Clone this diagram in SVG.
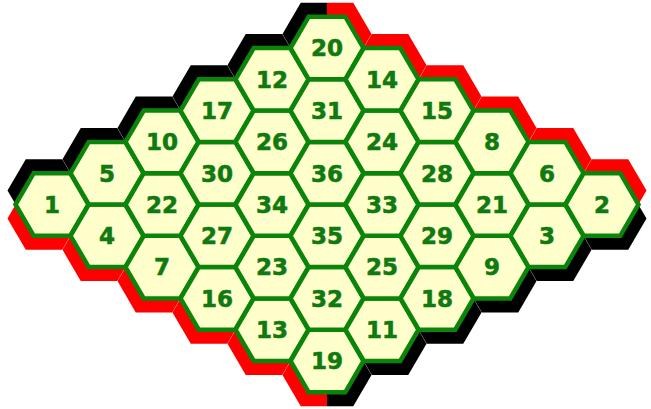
<svg xmlns="http://www.w3.org/2000/svg" xmlns:xlink="http://www.w3.org/1999/xlink" width="651" height="409" viewBox="0 0 651 409">
<style>
.cell{fill:#FFFFCC;stroke:#0a850a;stroke-width:4.5;stroke-linejoin:miter}
.blk{fill:#000000}
.red{fill:#FF0000}
.lbl{font-family:"DejaVu Sans",Verdana,sans-serif;font-weight:bold;font-size:23px;fill:#107a10;stroke:#107a10;stroke-width:0.6;text-anchor:middle}
</style>
<defs>
<path id="hex" d="M-36.5,0 L-18.25,-31.3 L18.25,-31.3 L36.5,0 L18.25,31.3 L-18.25,31.3 Z"/>
<clipPath id="cl" clipPathUnits="userSpaceOnUse"><rect x="0" y="0" width="327" height="409"/></clipPath>
<clipPath id="cr" clipPathUnits="userSpaceOnUse"><rect x="327" y="0" width="324" height="409"/></clipPath>
</defs>
<rect x="0" y="0" width="651" height="409" fill="#ffffff"/>
<g id="border">
<g class="blk">
<use href="#hex" x="44" y="190.5"/>
<use href="#hex" x="99" y="159.2"/>
<use href="#hex" x="154" y="127.9"/>
<use href="#hex" x="209" y="96.6"/>
<use href="#hex" x="264" y="65.3"/>
<g clip-path="url(#cl)"><use href="#hex" x="319" y="34"/></g>
<g clip-path="url(#cr)"><use href="#hex" x="335" y="375"/></g>
<use href="#hex" x="390" y="343.7"/>
<use href="#hex" x="445" y="312.4"/>
<use href="#hex" x="500" y="281.1"/>
<use href="#hex" x="555" y="249.8"/>
<use href="#hex" x="610" y="218.5"/>
</g>
<g class="red">
<g clip-path="url(#cr)"><use href="#hex" x="335" y="34"/></g>
<use href="#hex" x="390" y="65.3"/>
<use href="#hex" x="445" y="96.6"/>
<use href="#hex" x="500" y="127.9"/>
<use href="#hex" x="555" y="159.2"/>
<use href="#hex" x="610" y="190.5"/>
<use href="#hex" x="44" y="218.5"/>
<use href="#hex" x="99" y="249.8"/>
<use href="#hex" x="154" y="281.1"/>
<use href="#hex" x="209" y="312.4"/>
<use href="#hex" x="264" y="343.7"/>
<g clip-path="url(#cl)"><use href="#hex" x="319" y="375"/></g>
</g>
</g>
<g id="cells">
<g id="c1"><use href="#hex" class="cell" x="52" y="204.5"/><text class="lbl" x="52" y="212.8">1</text></g>
<g id="c4"><use href="#hex" class="cell" x="107" y="235.8"/><text class="lbl" x="107" y="244.1">4</text></g>
<g id="c7"><use href="#hex" class="cell" x="162" y="267.1"/><text class="lbl" x="162" y="275.4">7</text></g>
<g id="c16"><use href="#hex" class="cell" x="217" y="298.4"/><text class="lbl" x="217" y="306.7">16</text></g>
<g id="c13"><use href="#hex" class="cell" x="272" y="329.7"/><text class="lbl" x="272" y="338">13</text></g>
<g id="c19"><use href="#hex" class="cell" x="327" y="361"/><text class="lbl" x="327" y="369.3">19</text></g>
<g id="c5"><use href="#hex" class="cell" x="107" y="173.2"/><text class="lbl" x="107" y="181.5">5</text></g>
<g id="c22"><use href="#hex" class="cell" x="162" y="204.5"/><text class="lbl" x="162" y="212.8">22</text></g>
<g id="c27"><use href="#hex" class="cell" x="217" y="235.8"/><text class="lbl" x="217" y="244.1">27</text></g>
<g id="c23"><use href="#hex" class="cell" x="272" y="267.1"/><text class="lbl" x="272" y="275.4">23</text></g>
<g id="c32"><use href="#hex" class="cell" x="327" y="298.4"/><text class="lbl" x="327" y="306.7">32</text></g>
<g id="c11"><use href="#hex" class="cell" x="382" y="329.7"/><text class="lbl" x="382" y="338">11</text></g>
<g id="c10"><use href="#hex" class="cell" x="162" y="141.9"/><text class="lbl" x="162" y="150.2">10</text></g>
<g id="c30"><use href="#hex" class="cell" x="217" y="173.2"/><text class="lbl" x="217" y="181.5">30</text></g>
<g id="c34"><use href="#hex" class="cell" x="272" y="204.5"/><text class="lbl" x="272" y="212.8">34</text></g>
<g id="c35"><use href="#hex" class="cell" x="327" y="235.8"/><text class="lbl" x="327" y="244.1">35</text></g>
<g id="c25"><use href="#hex" class="cell" x="382" y="267.1"/><text class="lbl" x="382" y="275.4">25</text></g>
<g id="c18"><use href="#hex" class="cell" x="437" y="298.4"/><text class="lbl" x="437" y="306.7">18</text></g>
<g id="c17"><use href="#hex" class="cell" x="217" y="110.6"/><text class="lbl" x="217" y="118.9">17</text></g>
<g id="c26"><use href="#hex" class="cell" x="272" y="141.9"/><text class="lbl" x="272" y="150.2">26</text></g>
<g id="c36"><use href="#hex" class="cell" x="327" y="173.2"/><text class="lbl" x="327" y="181.5">36</text></g>
<g id="c33"><use href="#hex" class="cell" x="382" y="204.5"/><text class="lbl" x="382" y="212.8">33</text></g>
<g id="c29"><use href="#hex" class="cell" x="437" y="235.8"/><text class="lbl" x="437" y="244.1">29</text></g>
<g id="c9"><use href="#hex" class="cell" x="492" y="267.1"/><text class="lbl" x="492" y="275.4">9</text></g>
<g id="c12"><use href="#hex" class="cell" x="272" y="79.3"/><text class="lbl" x="272" y="87.6">12</text></g>
<g id="c31"><use href="#hex" class="cell" x="327" y="110.6"/><text class="lbl" x="327" y="118.9">31</text></g>
<g id="c24"><use href="#hex" class="cell" x="382" y="141.9"/><text class="lbl" x="382" y="150.2">24</text></g>
<g id="c28"><use href="#hex" class="cell" x="437" y="173.2"/><text class="lbl" x="437" y="181.5">28</text></g>
<g id="c21"><use href="#hex" class="cell" x="492" y="204.5"/><text class="lbl" x="492" y="212.8">21</text></g>
<g id="c3"><use href="#hex" class="cell" x="547" y="235.8"/><text class="lbl" x="547" y="244.1">3</text></g>
<g id="c20"><use href="#hex" class="cell" x="327" y="48"/><text class="lbl" x="327" y="56.3">20</text></g>
<g id="c14"><use href="#hex" class="cell" x="382" y="79.3"/><text class="lbl" x="382" y="87.6">14</text></g>
<g id="c15"><use href="#hex" class="cell" x="437" y="110.6"/><text class="lbl" x="437" y="118.9">15</text></g>
<g id="c8"><use href="#hex" class="cell" x="492" y="141.9"/><text class="lbl" x="492" y="150.2">8</text></g>
<g id="c6"><use href="#hex" class="cell" x="547" y="173.2"/><text class="lbl" x="547" y="181.5">6</text></g>
<g id="c2"><use href="#hex" class="cell" x="602" y="204.5"/><text class="lbl" x="602" y="212.8">2</text></g>
</g>
</svg>
